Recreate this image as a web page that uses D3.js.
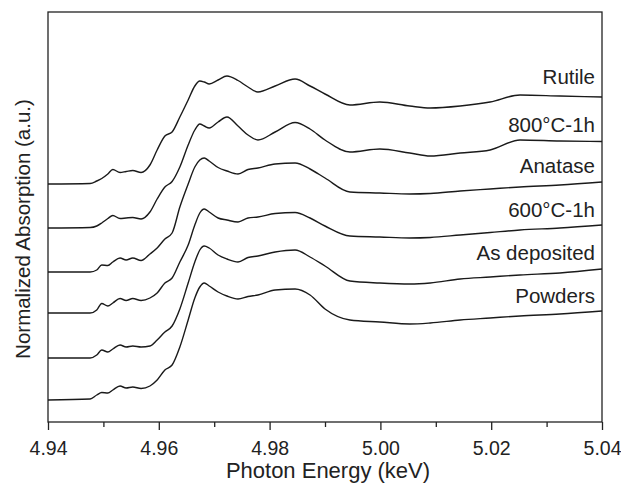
<!DOCTYPE html>
<html>
<head>
<meta charset="utf-8">
<script src="https://cdn.jsdelivr.net/npm/d3@7"></script>
<style>
body { margin: 0; background: #fff; }
text { font-family: "Liberation Sans", Arial, sans-serif; fill: #222; }
</style>
</head>
<body>
<svg id="plotarea"></svg>
<script>
// photon energy (keV), shared by all spectra
var energy = [4.9400, 4.9476, 4.9488, 4.9497, 4.9508, 4.9517, 4.9530, 4.9541, 4.9553, 4.9568,
    4.9584, 4.9597, 4.9611, 4.9624, 4.9638, 4.9653, 4.9665, 4.9674, 4.9682, 4.9691,
    4.9707, 4.9723, 4.9743, 4.9761, 4.9779, 4.9810, 4.9846, 4.9873, 4.9900, 4.9945,
    4.9999, 5.0053, 5.0090, 5.0144, 5.0198, 5.0252, 5.0324, 5.0400];

// normalized absorption, already stacked (a.u.)
var rutile = [2.38, 2.385, 2.41, 2.435, 2.48, 2.525, 2.495, 2.505, 2.515, 2.495,
    2.57, 2.72, 2.86, 2.90, 3.05, 3.22, 3.36, 3.41, 3.40, 3.38,
    3.42, 3.46, 3.415, 3.35, 3.30, 3.36, 3.43, 3.36, 3.28, 3.17,
    3.20, 3.16, 3.14, 3.16, 3.20, 3.27, 3.26, 3.25];
var t800 = [1.94, 1.945, 1.96, 1.99, 2.035, 2.065, 2.035, 2.04, 2.045, 2.03,
    2.10, 2.23, 2.35, 2.405, 2.55, 2.77, 2.92, 2.98, 2.96, 2.94,
    3.00, 3.05, 2.96, 2.87, 2.82, 2.90, 2.995, 2.93, 2.82, 2.70,
    2.73, 2.69, 2.66, 2.69, 2.72, 2.82, 2.81, 2.805];
var anatase = [1.50, 1.50, 1.52, 1.57, 1.565, 1.60, 1.64, 1.62, 1.64, 1.615,
    1.68, 1.74, 1.83, 1.89, 2.15, 2.38, 2.55, 2.62, 2.64, 2.61,
    2.545, 2.51, 2.48, 2.525, 2.54, 2.58, 2.59, 2.53, 2.44, 2.30,
    2.29, 2.28, 2.285, 2.31, 2.33, 2.35, 2.37, 2.40];
var t600 = [1.09, 1.09, 1.12, 1.185, 1.16, 1.19, 1.235, 1.215, 1.235, 1.215,
    1.24, 1.29, 1.39, 1.44, 1.60, 1.77, 1.97, 2.09, 2.13, 2.10,
    2.04, 2.02, 2.00, 2.04, 2.05, 2.085, 2.095, 2.04, 1.96, 1.86,
    1.85, 1.84, 1.845, 1.87, 1.895, 1.92, 1.94, 1.97];
var asDeposited = [0.64, 0.64, 0.67, 0.72, 0.70, 0.73, 0.77, 0.75, 0.76, 0.75,
    0.76, 0.82, 0.90, 0.96, 1.13, 1.39, 1.60, 1.72, 1.76, 1.74,
    1.67, 1.63, 1.60, 1.645, 1.66, 1.70, 1.72, 1.65, 1.56, 1.41,
    1.39, 1.38, 1.39, 1.43, 1.45, 1.47, 1.49, 1.53];
var powders = [0.22, 0.23, 0.27, 0.295, 0.29, 0.32, 0.36, 0.34, 0.35, 0.335,
    0.36, 0.42, 0.52, 0.57, 0.75, 1.02, 1.24, 1.35, 1.39, 1.36,
    1.30, 1.26, 1.23, 1.255, 1.27, 1.32, 1.33, 1.27, 1.13, 1.02,
    1.00, 0.98, 0.99, 1.02, 1.04, 1.06, 1.08, 1.11];

var seriesNames = ["Rutile", "800\u00b0C-1h", "Anatase", "600\u00b0C-1h", "As deposited", "Powders"];
var seriesValues = [rutile, t800, anatase, t600, asDeposited, powders];

var xTicks = [4.94, 4.96, 4.98, 5.00, 5.02, 5.04];
var xMinorTicks = [4.95, 4.97, 4.99, 5.01, 5.03];

function drawchart() {
    var margin = {top: 12, right: 19, bottom: 61, left: 48};
    var width = 621 - margin.left - margin.right;
    var height = 483 - margin.top - margin.bottom;

    var svg = d3.select("#plotarea")
        .attr("width", 621)
        .attr("height", 483);

    var g = svg.append("g")
        .attr("transform", "translate(" + margin.left + "," + margin.top + ")");

    var x = d3.scaleLinear().domain([4.94, 5.04]).range([0, width]);
    var y = d3.scaleLinear().domain([0, 4.1]).range([height, 0]);

    // minor ticks first, then major ticks with labels
    g.append("g")
        .attr("transform", "translate(0," + height + ")")
        .call(d3.axisBottom(x).tickValues(xMinorTicks).tickSize(5).tickSizeOuter(0).tickFormat(""))
        .call(function (a) { a.select(".domain").remove(); })
        .selectAll("line").attr("stroke", "#222").attr("stroke-width", 1.3);

    var xAxis = g.append("g")
        .attr("transform", "translate(0," + height + ")")
        .call(d3.axisBottom(x).tickValues(xTicks).tickSize(8).tickSizeOuter(0)
            .tickPadding(11).tickFormat(d3.format(".2f")));
    xAxis.select(".domain").remove();
    xAxis.selectAll("line").attr("stroke", "#222").attr("stroke-width", 1.3);
    xAxis.selectAll("text")
        .style("font-family", "'Liberation Sans', Arial, sans-serif")
        .style("font-size", "19.5px")
        .attr("fill", "#222");

    // frame
    g.append("rect")
        .attr("width", width)
        .attr("height", height)
        .attr("fill", "none")
        .attr("stroke", "#222")
        .attr("stroke-width", 1.3);

    var line = d3.line()
        .x(function (d, i) { return x(energy[i]); })
        .y(function (d) { return y(d); })
        .curve(d3.curveMonotoneX);

    g.selectAll(".spectrum")
        .data(seriesValues)
        .enter()
        .append("path")
        .attr("class", "spectrum")
        .attr("d", line)
        .attr("fill", "none")
        .attr("stroke", "#1a1a1a")
        .attr("stroke-width", 1.4);

    // labels sit just above the right end of each curve
    var labelLift = [13, 10, 9.5, 8.5, 9, 8.5];
    g.selectAll(".label")
        .data(seriesNames)
        .enter()
        .append("text")
        .attr("class", "label")
        .attr("text-anchor", "end")
        .attr("x", width - 7)
        .attr("y", function (d, i) {
            var v = seriesValues[i];
            return y(v[v.length - 1]) - labelLift[i];
        })
        .style("font-size", "20.5px")
        .text(function (d) { return d; });

    g.append("text")
        .attr("text-anchor", "middle")
        .attr("x", width / 2 + 3)
        .attr("y", height + 56)
        .style("font-size", "22px")
        .text("Photon Energy (keV)");

    g.append("text")
        .attr("text-anchor", "middle")
        .attr("transform", "translate(" + (30 - margin.left) + "," + (229 - margin.top) + ") rotate(-90)")
        .style("font-size", "20.5px")
        .text("Normalized Absorption (a.u.)");
}

drawchart();
</script>
</body>
</html>
